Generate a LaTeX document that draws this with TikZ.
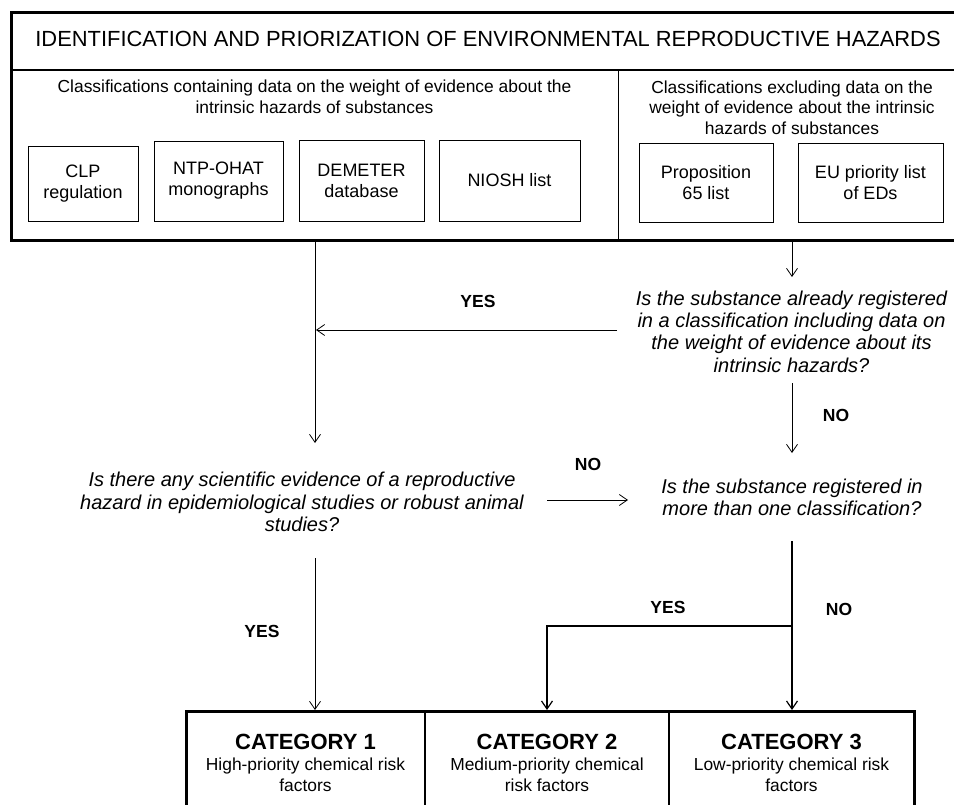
\documentclass[tikz,border=0pt]{standalone}
\usepackage{fontspec}
\setmainfont{Liberation Sans}
\usetikzlibrary{arrows.meta}
\begin{document}
\begin{tikzpicture}[x=1pt,y=-1pt,
  every node/.style={inner sep=0pt, align=center},
  titlef/.style={font=\fontsize{21.9}{24}\selectfont},
  small/.style={font=\fontsize{17.4}{20.5}\selectfont},
  ques/.style={font=\fontsize{20}{22.3}\selectfont\itshape},
  lab/.style={font=\fontsize{17.5}{18}\selectfont\bfseries},
  catf/.style={font=\fontsize{22}{24}\selectfont\bfseries},
  inbox/.style={draw, line width=0.9pt, font=\fontsize{18}{21}\selectfont},
  arr/.style={line width=0.8pt, -{Straight Barb[length=8pt,width=11pt]}},
]
\useasboundingbox (0,0) rectangle (954,805);
% top frame
\draw[line width=1.2pt] (11,70) -- (960,70);
\draw[line width=1pt] (618,70) -- (618,241);
\draw[line width=3pt] (962,13) -- (11,13) -- (11,241) -- (962,241);
\node[titlef] (title) at (488,39) {IDENTIFICATION AND PRIORIZATION OF ENVIRONMENTAL REPRODUCTIVE HAZARDS};
\node[small] (lefthead) at (314.5,97) {Classifications containing data on the weight of evidence about the\\intrinsic hazards of substances};
\node[small] (righthead) at (792,107.5) {Classifications excluding data on the\\weight of evidence about the intrinsic\\hazards of substances};
% inner boxes
\node[inbox, minimum width=110pt, minimum height=75pt] (clp) at (83,183.5) {CLP\\regulation};
\node[inbox, minimum width=129pt, minimum height=80pt] (ntp) at (218.5,181) {NTP-OHAT\\monographs};
\node[inbox, minimum width=125pt, minimum height=81pt] (dem) at (361.5,180.5) {DEMETER\\database};
\node[inbox, minimum width=141pt, minimum height=81pt] (nio) at (509.5,180.5) {NIOSH list};
\node[inbox, minimum width=134pt, minimum height=79pt] (p65) at (706,182.5) {Proposition\\65 list};
\node[inbox, minimum width=145pt, minimum height=79pt] (eu) at (870.5,182.5) {EU priority list\\of EDs};
% questions
\node[ques] (q1) at (791.5,331.5) {Is the substance already registered\\in a classification including data on\\the weight of evidence about its\\intrinsic hazards?};
\node[ques] (q2) at (302,502) {Is there any scientific evidence of a reproductive\\hazard in epidemiological studies or robust animal\\studies?};
\node[ques] (q3) at (792,497.5) {Is the substance registered in\\more than one classification?};
% labels
\node[lab] (yes1) at (478,301) {YES};
\node[lab] (no1) at (836,415) {NO};
\node[lab] (no2) at (588,464) {NO};
\node[lab] (yes2) at (668,607) {YES};
\node[lab] (no3) at (839,609) {NO};
\node[lab] (yes3) at (262,631) {YES};
% category box
\draw[line width=1.6pt] (425,711) -- (425,810) (669,711) -- (669,810);
\draw[line width=3pt] (186,812) -- (186,711) -- (914,711) -- (914,812);
\node[catf] (c1t) at (305.5,742) {CATEGORY 1};
\node[catf] (c2t) at (547,742) {CATEGORY 2};
\node[catf] (c3t) at (791.5,742) {CATEGORY 3};
\node[small] (c1) at (305.5,775) {High-priority chemical risk\\factors};
\node[small] (c2) at (547,775) {Medium-priority chemical\\risk factors};
\node[small] (c3) at (791.5,775) {Low-priority chemical risk\\factors};
% connector coordinates
\coordinate (a1s) at (315,241); \coordinate (a1e) at (315,443);
\coordinate (a2s) at (792,241); \coordinate (a2e) at (792,277);
\coordinate (a3s) at (617,330); \coordinate (a3e) at (316,330);
\coordinate (a4s) at (792,383); \coordinate (a4e) at (792,453);
\coordinate (a5s) at (547,500); \coordinate (a5e) at (628,500);
\coordinate (a6s) at (315,558); \coordinate (a6e) at (315,710);
\coordinate (a7s) at (792,541); \coordinate (a7e) at (792,710);
\coordinate (br) at (792,626); \coordinate (brl) at (547,626); \coordinate (a8e) at (547,710);
% connectors
\draw[arr] (a1s) -- (a1e);
\draw[arr] (a2s) -- (a2e);
\draw[arr] (a3s) -- (a3e);
\draw[arr] (a4s) -- (a4e);
\draw[arr] (a5s) -- (a5e);
\draw[arr] (a6s) -- (a6e);
\draw[arr, line width=1.2pt] (a7s) -- (a7e);
\draw[arr, line width=1.2pt] (br) -- (brl) -- (a8e);
\end{tikzpicture}
\end{document}
